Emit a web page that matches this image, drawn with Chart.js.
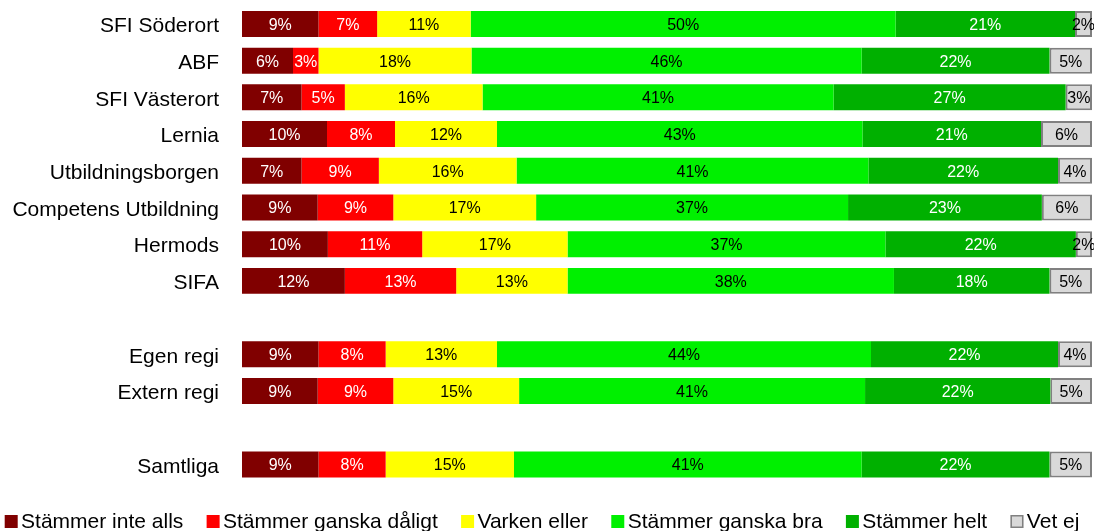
<!DOCTYPE html>
<html><head><meta charset="utf-8">
<script src="https://cdn.jsdelivr.net/npm/chart.js@4"></script>
<style>html,body{margin:0;padding:0;background:#fff;overflow:hidden}
#wrap{position:relative;width:1094px;height:531px}</style>
</head><body><div id="wrap"><canvas id="c"></canvas></div>
<script>
const categories = ['SFI Söderort','ABF','SFI Västerort','Lernia','Utbildningsborgen','Competens Utbildning','Hermods','SIFA','','Egen regi','Extern regi','','Samtliga'];
const seriesNames = ['Stämmer inte alls','Stämmer ganska dåligt','Varken eller','Stämmer ganska bra','Stämmer helt','Vet ej'];
const stammerInteAlls     = [9.0, 6.0, 7.0, 10.0, 7.0, 8.9, 10.1, 12.1, null, 9.0, 8.9, null, 9.0];
const stammerGanskaDaligt = [6.9, 3.0, 5.1, 8.0, 9.1, 8.9, 11.1, 13.1, null, 7.9, 8.9, null, 7.9];
const varkenEller         = [11.0, 18.0, 16.2, 12.0, 16.2, 16.8, 17.1, 13.1, null, 13.1, 14.8, null, 15.1];
const stammerGanskaBra    = [50.0, 45.9, 41.3, 43.0, 41.4, 36.7, 37.4, 38.4, null, 44.0, 40.7, null, 40.9];
const stammerHelt         = [21.1, 22.1, 27.3, 21.0, 22.3, 22.8, 22.4, 18.3, null, 22.0, 21.8, null, 22.1];
const vetEj               = [2.0, 5.0, 3.1, 6.0, 4.0, 5.9, 1.9, 5.0, null, 4.0, 4.9, null, 5.0];

const seriesValues = [stammerInteAlls, stammerGanskaDaligt, varkenEller, stammerGanskaBra, stammerHelt, vetEj];
const fillColors = ['#800000','#FF0000','#FFFF00','#00F000','#00B000','#D9D9D9'];
const borderColors = ['#800000','#FF0000','#FFFF00','#00F000','#00B000','#808080'];
const borderWidths = [0,0,0,0,0,2];
const labelColors = ['#FFFFFF','#FFFFFF','#000000','#000000','#FFFFFF','#000000'];
const FONT = '"Liberation Sans", Arial, sans-serif';

const barLabels = {
  id: 'barLabels',
  afterDatasetsDraw(chart) {
    const ctx = chart.ctx;
    ctx.save();
    ctx.font = '16px ' + FONT;
    ctx.textAlign = 'center';
    ctx.textBaseline = 'middle';
    chart.data.datasets.forEach((ds, i) => {
      const meta = chart.getDatasetMeta(i);
      meta.data.forEach((el, j) => {
        const v = ds.data[j];
        if (v == null) return;
        const p = el.getProps(['x', 'y', 'base'], true);
        ctx.fillStyle = labelColors[i];
        ctx.fillText(Math.round(v) + '%', (p.x + p.base) / 2, p.y + 1.5);
      });
    });
    ctx.restore();
  }
};

const bottomLegend = {
  id: 'bottomLegend',
  afterDraw(chart) {
    const ctx = chart.ctx;
    ctx.save();
    ctx.font = '21px ' + FONT;
    ctx.textAlign = 'left';
    ctx.textBaseline = 'alphabetic';
    const box = 13, boxGap = 3.4, itemGap = 23.3, baseY = 528, boxTop = 515;
    let x = 4.7;
    chart.data.datasets.forEach(ds => {
      ctx.fillStyle = ds.backgroundColor;
      ctx.fillRect(x, boxTop, box, box);
      if (ds.borderWidth > 0) {
        ctx.strokeStyle = ds.borderColor;
        ctx.lineWidth = 1.5;
        ctx.strokeRect(x + 0.75, boxTop + 0.75, box - 1.5, box - 1.5);
      }
      ctx.fillStyle = '#000';
      const tx = x + box + boxGap;
      ctx.fillText(ds.label, tx, baseY);
      x = tx + ctx.measureText(ds.label).width + itemGap;
    });
    ctx.restore();
  }
};

new Chart(document.getElementById('c'), {
  type: 'bar',
  data: {
    labels: categories,
    datasets: seriesNames.map((name, i) => ({
      label: name,
      data: seriesValues[i],
      backgroundColor: fillColors[i],
      borderColor: borderColors[i],
      borderWidth: borderWidths[i],
      borderSkipped: false,
      categoryPercentage: 1,
      barPercentage: 0.708
    }))
  },
  options: {
    indexAxis: 'y',
    responsive: true,
    maintainAspectRatio: false,
    animation: false,
    layout: { padding: { top: 5.6, right: 2, left: 0, bottom: 48.25 } },
    scales: {
      x: {
        stacked: true, min: 0, max: 100, display: false
      },
      y: {
        stacked: true,
        grid: { display: false, drawTicks: false },
        border: { display: false },
        ticks: { color: '#000', font: { family: FONT, size: 21 }, padding: 23, autoSkip: false, labelOffset: 2.5 },
        afterFit(s) { s.width = 242; s.paddingTop = 0; s.paddingBottom = 0; }
      }
    },
    plugins: {
      legend: { display: false },
      tooltip: { enabled: false }
    }
  },
  plugins: [barLabels, bottomLegend]
});
</script>
</body></html>
